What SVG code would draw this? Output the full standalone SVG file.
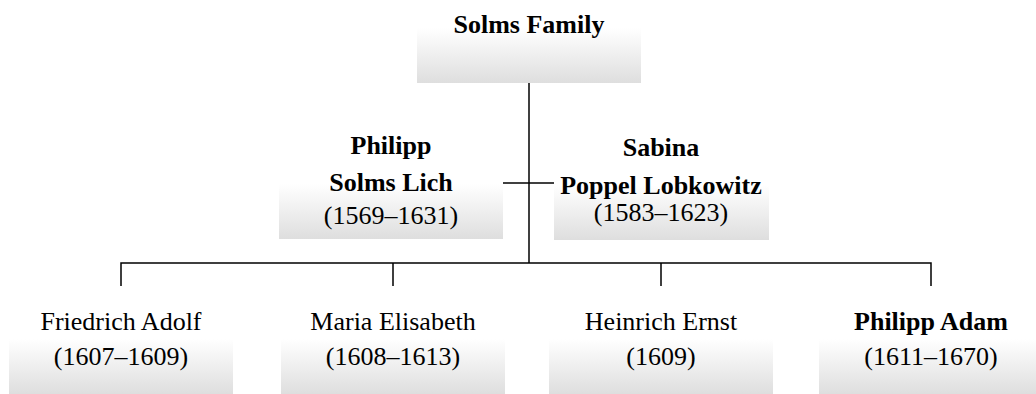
<svg xmlns="http://www.w3.org/2000/svg" width="1036" height="394" viewBox="0 0 1036 394">
<style>
text{font-family:"Liberation Serif","Times New Roman",serif;font-size:26px;fill:#000;text-anchor:middle}
.b{font-weight:bold}
.box{fill:url(#g)}
.ln{stroke:#000;stroke-width:1.5;fill:none}
</style>
<defs>
<linearGradient id="g" x1="0" y1="0" x2="0" y2="1">
<stop offset="0" stop-color="#ffffff"/>
<stop offset="0.45" stop-color="#ffffff"/>
<stop offset="1" stop-color="#dedede"/>
</linearGradient>
</defs>
<g id="connectors">
<path class="ln" d="M529,83 V263"/>
<path class="ln" d="M503,183 H554"/>
<path class="ln" d="M121,286 V263 H931 V286"/>
<path class="ln" d="M393,263 V286 M661,263 V286"/>
</g>
<g id="solms-family">
<rect class="box" x="417" y="-17" width="224" height="100"/>
<text class="b" x="529" y="33">Solms Family</text>
</g>
<g id="philipp">
<rect class="box" x="279" y="139" width="224" height="100"/>
<text class="b" x="391" y="154">Philipp</text>
<text class="b" x="391" y="191">Solms Lich</text>
<text x="391" y="224">(1569–1631)</text>
</g>
<g id="sabina">
<rect class="box" x="554" y="140" width="215" height="100"/>
<text class="b" x="661" y="156">Sabina</text>
<text class="b" x="661" y="194">Poppel Lobkowitz</text>
<text x="661" y="221">(1583–1623)</text>
</g>
<g id="friedrich-adolf">
<rect class="box" x="9" y="294" width="224" height="100"/>
<text x="121" y="330">Friedrich Adolf</text>
<text x="121" y="365">(1607–1609)</text>
</g>
<g id="maria-elisabeth">
<rect class="box" x="281" y="294" width="224" height="100"/>
<text x="393" y="330">Maria Elisabeth</text>
<text x="393" y="365">(1608–1613)</text>
</g>
<g id="heinrich-ernst">
<rect class="box" x="549" y="294" width="224" height="100"/>
<text x="661" y="330">Heinrich Ernst</text>
<text x="661" y="365">(1609)</text>
</g>
<g id="philipp-adam">
<rect class="box" x="819" y="294" width="224" height="100"/>
<text class="b" x="931" y="330">Philipp Adam</text>
<text x="931" y="365">(1611–1670)</text>
</g>
</svg>
